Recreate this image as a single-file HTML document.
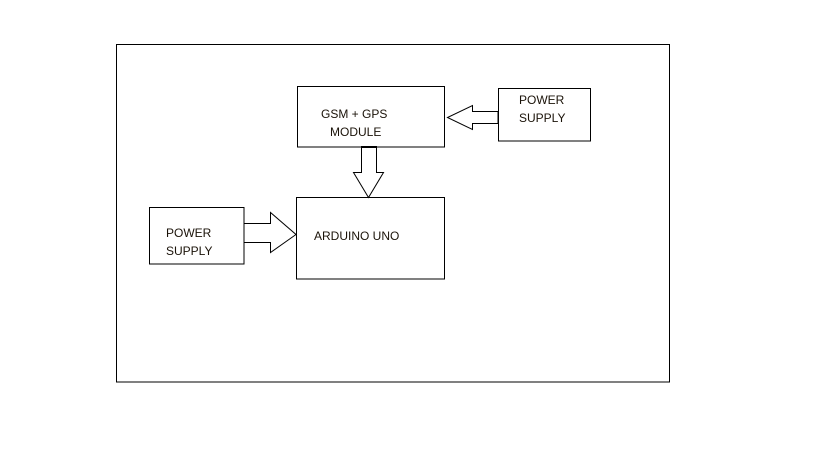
<!DOCTYPE html>
<html><head><meta charset="utf-8"><style>
html,body{margin:0;padding:0;background:#fff;width:819px;height:460px;overflow:hidden}
svg text{font-family:"Liberation Sans",sans-serif;font-size:12px;fill:#1a1208}
</style></head><body>
<svg width="819" height="460" xmlns="http://www.w3.org/2000/svg">
<g fill="none" stroke="#000" stroke-width="1">
<rect x="116.5" y="44.5" width="553" height="337.5"/>
<rect x="297.5" y="86.5" width="147" height="60.5"/>
<rect x="498.5" y="88.5" width="92" height="52.5"/>
<rect x="296.5" y="197.5" width="148" height="81.5"/>
<rect x="149.5" y="207.5" width="94.5" height="56.5"/>
<polygon fill="#fff" points="498,111.5 472.5,111.5 472.5,105.5 447.5,117.5 472.5,129.5 472.5,123.5 498,123.5"/>
<polygon fill="#fff" points="361.5,147 361.5,172.5 353.5,172.5 368.5,197.5 383.5,172.5 376.5,172.5 376.5,147"/>
<polygon fill="#fff" points="244,223.5 270.5,223.5 270.5,212.5 296,234.5 270.5,252.5 270.5,242.5 244,242.5"/>
</g>
<line x1="361" y1="147" x2="377" y2="147" stroke="#000" stroke-width="2"/>
<text x="321" y="118">GSM + GPS</text>
<text x="330" y="136">MODULE</text>
<text x="519" y="104">POWER</text>
<text x="519" y="122">SUPPLY</text>
<text x="314" y="240">ARDUINO UNO</text>
<text x="166" y="237">POWER</text>
<text x="166" y="255">SUPPLY</text>
</svg>
</body></html>
